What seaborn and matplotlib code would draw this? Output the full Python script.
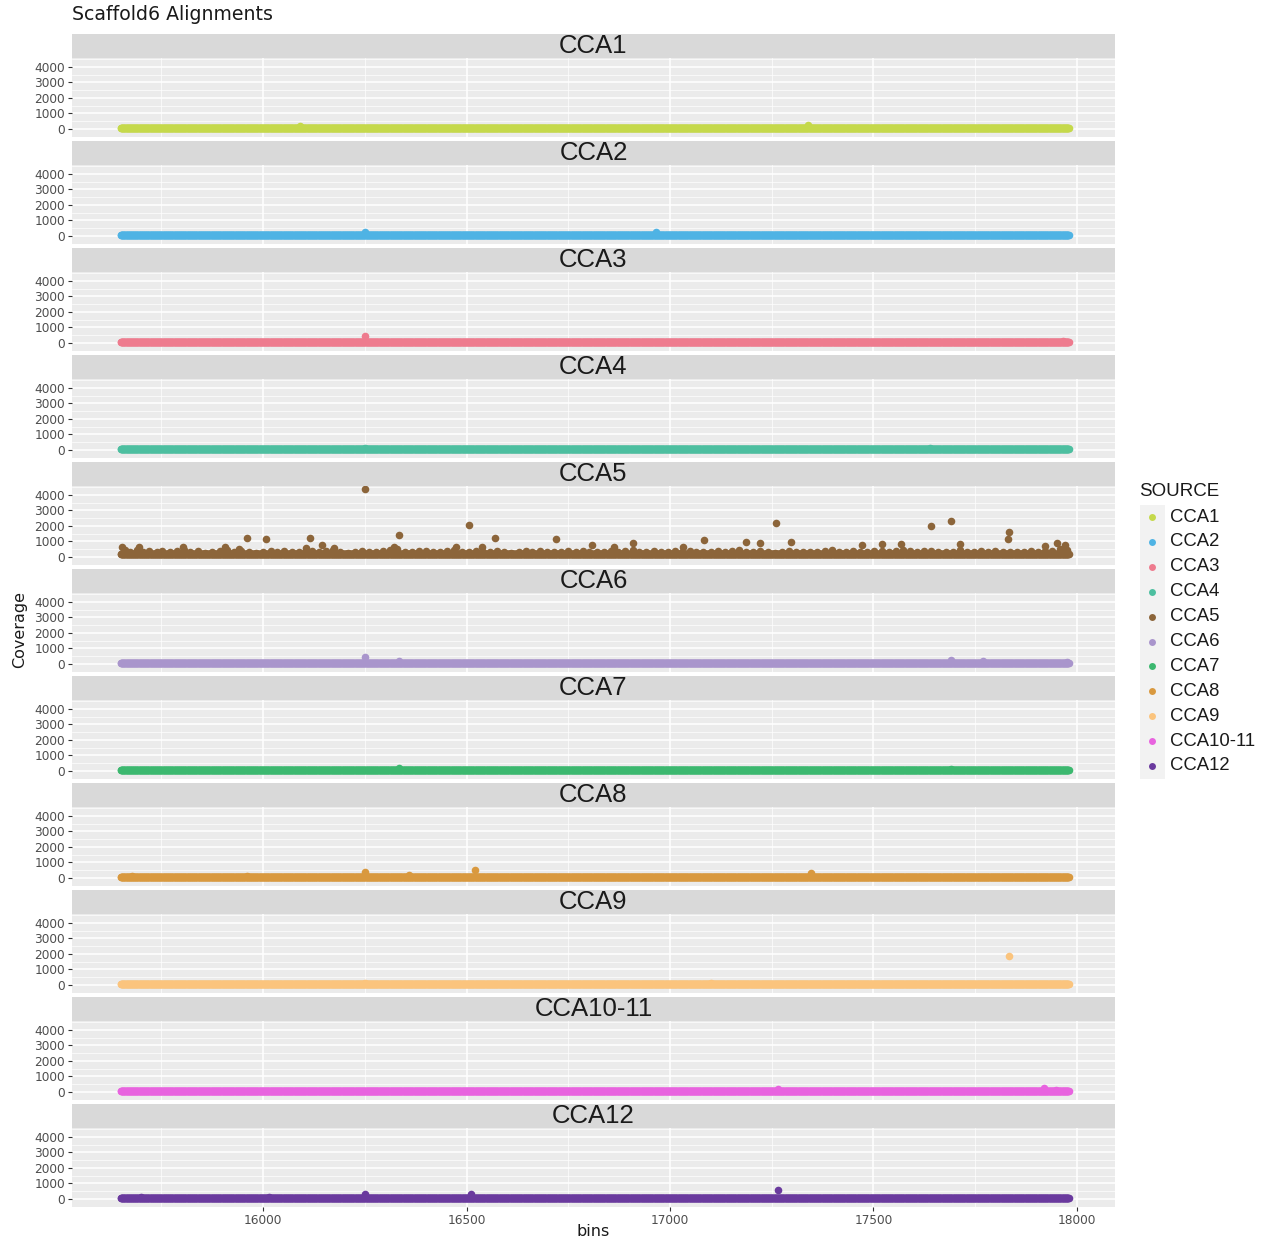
import numpy as np
import pandas as pd
import seaborn as sns
import matplotlib.pyplot as plt
from matplotlib.patches import Rectangle
from matplotlib.lines import Line2D

# facet order and colours
sources = ["CCA1", "CCA2", "CCA3", "CCA4", "CCA5", "CCA6",
           "CCA7", "CCA8", "CCA9", "CCA10-11", "CCA12"]
colors = ["#C5D94B", "#4FB3E4", "#EE7B8E", "#4DBFA0", "#8C653A", "#A995CC",
          "#3CB86F", "#D9993F", "#FBC47D", "#E863DF", "#6A3A9E"]

# bins covered by the alignments
bin_first = 15650
bin_last = 17980

# typical coverage per source
base_cov = [30, 30, 30, 30, 170, 40, 30, 30, 30, 40, 40]

# peaks: (bin, coverage)
peaks_cca1 = [(16090, 180), (17340, 230)]
peaks_cca2 = [(16250, 260), (16965, 240)]
peaks_cca3 = [(16250, 420), (17965, 150)]
peaks_cca4 = [(16250, 150), (17640, 110)]
peaks_cca5 = [(16250, 4360), (15961, 1240), (16007, 1140), (16115, 1200),
              (16335, 1430), (16507, 2060), (16571, 1200), (16719, 1140),
              (16538, 670), (16145, 740), (15654, 630), (15694, 670),
              (15804, 630), (15906, 610), (15941, 530), (16106, 570),
              (16175, 570), (16322, 670), (16474, 630), (16809, 800),
              (17261, 2210), (17641, 1980), (17690, 2300), (17833, 1620),
              (17832, 1160), (17084, 1120), (17714, 860), (17951, 930),
              (17970, 740), (16910, 900), (16863, 650), (17033, 650),
              (17188, 950), (17221, 880), (17297, 990), (17471, 800),
              (17521, 820), (17568, 860), (17923, 700)]
band_cca5 = [(15660, 480), (15672, 350), (15690, 420), (15705, 300), (15720, 380),
             (15738, 330), (15752, 410), (15770, 290), (15788, 360), (15805, 440),
             (15820, 310), (15840, 370), (15858, 280), (15875, 340), (15893, 400),
             (15910, 450), (15928, 300), (15946, 360), (15965, 330), (15982, 280),
             (16000, 350), (16018, 410), (16035, 300), (16052, 370), (16070, 330),
             (16088, 290), (16105, 420), (16120, 360), (16138, 310), (16155, 380),
             (16172, 450), (16190, 320), (16208, 280), (16225, 350), (16242, 390),
             (16260, 330), (16278, 300), (16295, 360), (16312, 420), (16330, 500),
             (16348, 340), (16365, 300), (16382, 370), (16400, 410), (16418, 330),
             (16435, 290), (16452, 360), (16470, 430), (16488, 310), (16505, 350),
             (16522, 390), (16540, 330), (16558, 300), (16575, 370), (16592, 320),
             (16610, 280), (16628, 350), (16645, 400), (16662, 310), (16680, 360),
             (16698, 290), (16715, 340), (16732, 300), (16750, 370), (16768, 320),
             (16785, 410), (16802, 350), (16820, 300), (16838, 340), (16855, 380),
             (16872, 310), (16890, 360), (16908, 420), (16925, 300), (16942, 350),
             (16960, 400), (16978, 330), (16995, 290), (17012, 360), (17030, 310),
             (17048, 380), (17065, 340), (17082, 300), (17100, 350), (17118, 390),
             (17135, 320), (17152, 370), (17170, 430), (17188, 350), (17205, 300),
             (17222, 360), (17240, 320), (17258, 280), (17275, 340), (17292, 400),
             (17310, 330), (17328, 290), (17345, 350), (17362, 310), (17380, 380),
             (17398, 420), (17415, 330), (17432, 300), (17450, 370), (17468, 340),
             (17485, 290), (17502, 360), (17520, 410), (17538, 330), (17555, 380),
             (17572, 450), (17590, 370), (17608, 320), (17625, 360), (17642, 400),
             (17660, 330), (17678, 300), (17695, 350), (17712, 420), (17730, 340),
             (17748, 300), (17765, 360), (17782, 320), (17800, 380), (17818, 340),
             (17835, 300), (17852, 350), (17870, 310), (17888, 370), (17905, 330),
             (17922, 400), (17940, 360), (17958, 500), (17975, 450)]
peaks_cca6 = [(16250, 450), (16335, 200), (17690, 250), (17770, 200), (17975, 150)]
peaks_cca7 = [(16335, 160), (17690, 120)]
peaks_cca8 = [(16250, 400), (16520, 520), (16358, 200), (15678, 150),
              (15961, 150), (17347, 320)]
peaks_cca9 = [(17833, 1870), (16250, 150), (17100, 150)]
peaks_cca1011 = [(17265, 200), (17920, 260), (17950, 150)]
peaks_cca12 = [(16250, 350), (16510, 300), (17265, 560), (16015, 150), (15700, 120)]

peaks = [peaks_cca1, peaks_cca2, peaks_cca3, peaks_cca4, peaks_cca5 + band_cca5,
         peaks_cca6, peaks_cca7, peaks_cca8, peaks_cca9, peaks_cca1011, peaks_cca12]

bins = np.arange(bin_first, bin_last + 1)
frames = []
for src, base, pk in zip(sources, base_cov, peaks):
    frames.append(pd.DataFrame({"bins": bins, "Coverage": base, "SOURCE": src}))
    frames.append(pd.DataFrame({"bins": [p[0] for p in pk],
                                "Coverage": [p[1] for p in pk], "SOURCE": src}))
d = pd.concat(frames, ignore_index=True)

W, H = 1265, 1242
fig = plt.figure(figsize=(W / 100, H / 100), dpi=100)

left, right = 72, 1115
pitch = 107
strip_font = ["Liberation Sans", "DejaVu Sans"]

for i, (src, col) in enumerate(zip(sources, colors)):
    st_top = 34 + pitch * i
    st_bot = 58 + pitch * i
    p_bot = 137 + pitch * i
    ax = fig.add_axes([left / W, 1 - p_bot / H, (right - left) / W, (p_bot - st_bot) / H])
    sub = d[d["SOURCE"] == src]
    sns.scatterplot(data=sub, x="bins", y="Coverage", color=col, s=30,
                    linewidth=0, ax=ax, legend=False, zorder=3)
    ax.set_facecolor("#EBEBEB")
    ax.set_xlim(15530, 18094)
    ax.set_ylim(-520, 4580)
    ax.set_yticks([0, 1000, 2000, 3000, 4000])
    ax.set_yticks([500, 1500, 2500, 3500, 4500], minor=True)
    ax.set_xticks([16000, 16500, 17000, 17500, 18000])
    ax.set_xticks([15750, 16250, 16750, 17250, 17750], minor=True)
    ax.grid(which="major", color="white", lw=1.1)
    ax.grid(which="minor", color="white", lw=0.5)
    ax.set_axisbelow(True)
    for sp in ax.spines.values():
        sp.set_visible(False)
    ax.tick_params(which="major", length=3, width=0.8, color="#333333",
                   labelsize=8.7, labelcolor="#4D4D4D", pad=2)
    ax.tick_params(which="minor", length=0)
    ax.set_xlabel("")
    ax.set_ylabel("")
    if i < len(sources) - 1:
        ax.tick_params(axis="x", which="major", length=0, labelbottom=False)

    # ggplot-like strip
    fig.add_artist(Rectangle((left / W, 1 - st_bot / H), (right - left) / W,
                             (st_bot - st_top) / H, transform=fig.transFigure,
                             facecolor="#D9D9D9", edgecolor="none"))
    fig.text((left + right) / 2 / W, 1 - (st_top + st_bot) / 2 / H, src,
             ha="center", va="center", fontsize=18.5, color="#1A1A1A",
             family=strip_font)

fig.text(72 / W, 1 - 15 / H, "Scaffold6 Alignments", ha="left", va="center",
         fontsize=13.6, color="#1A1A1A")
fig.text(20 / W, 1 - 630 / H, "Coverage", rotation=90, ha="center", va="center",
         fontsize=11.5, color="#1A1A1A")
fig.text((left + right) / 2 / W, 1 - 1232 / H, "bins", ha="center", va="center",
         fontsize=11.5, color="#1A1A1A")

# legend
fig.text(1139 / W, 1 - 491 / H, "SOURCE", ha="left", va="center",
         fontsize=13.5, color="#1A1A1A", family=strip_font)
fig.add_artist(Rectangle((1140 / W, 1 - 779 / H), 25 / W, 274 / H,
                         transform=fig.transFigure, facecolor="#F2F2F2",
                         edgecolor="none"))
for k, (src, col) in enumerate(zip(sources, colors)):
    yk = 517 + 24.9 * k
    fig.add_artist(Line2D([1152 / W], [1 - yk / H], marker="o", markersize=5,
                          markerfacecolor=col, markeredgewidth=0,
                          transform=fig.transFigure))
    fig.text(1170 / W, 1 - yk / H, src, ha="left", va="center",
             fontsize=13.3, color="#1A1A1A", family=strip_font)

fig.savefig("out.png", dpi=100)
